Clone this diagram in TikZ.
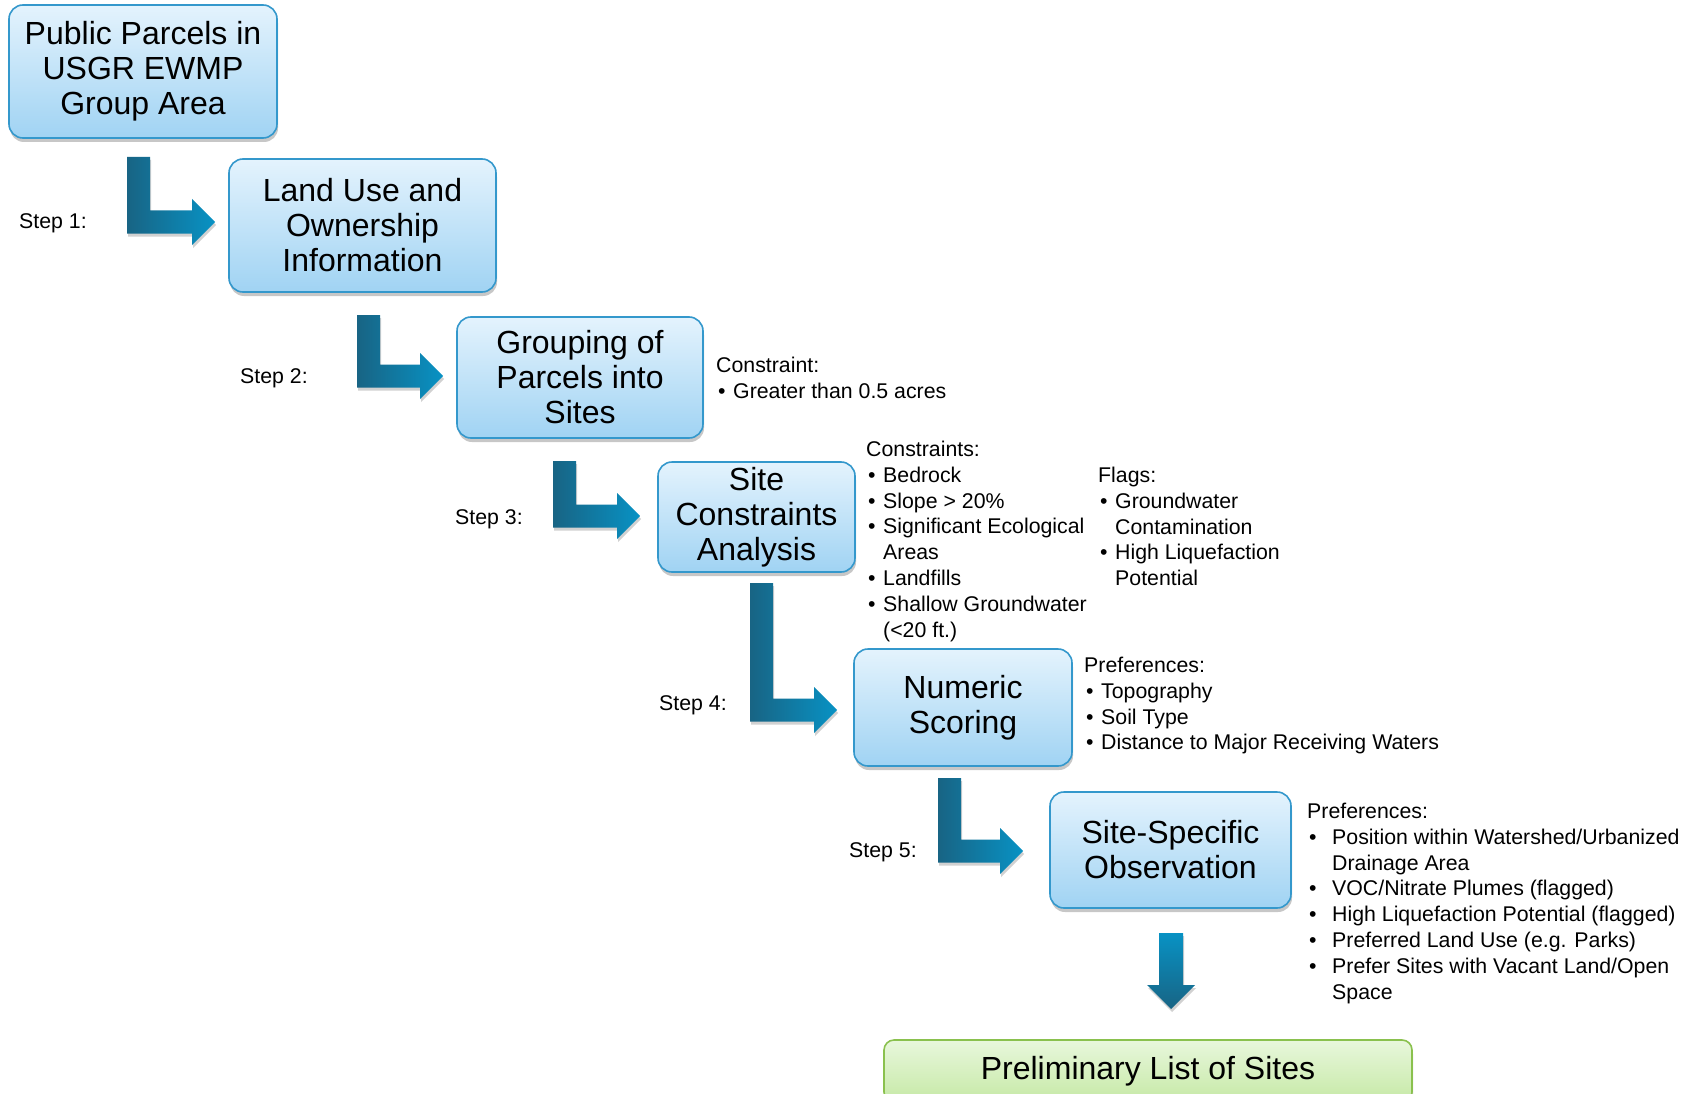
\documentclass[tikz,border=0pt]{standalone}
\usepackage{fontspec}
\setmainfont{Liberation Sans}
\usetikzlibrary{shadows,calc}

\definecolor{boxtop}{RGB}{228,243,253}
\definecolor{boxbot}{RGB}{160,211,243}
\definecolor{boxline}{RGB}{52,152,204}
\definecolor{greentop}{RGB}{232,247,220}
\definecolor{greenbot}{RGB}{198,233,166}
\definecolor{greenline}{RGB}{138,193,78}
\definecolor{arrdark}{RGB}{24,100,132}
\definecolor{arrlight}{RGB}{8,146,196}

\newcommand\bigtext{\fontsize{32}{35}\selectfont}
\newcommand\smalltext{\fontsize{21.3}{25.8}\selectfont}
% bullet line, continuation line and a stacked block of lines
\newcommand\bitem[2][17pt]{\hbox{\makebox[#1][l]{\hspace{2pt}•}#2}}
\newcommand\cont[2][17pt]{\hbox{\hspace{#1}#2}}
\newcommand\txtblock[1]{\vtop{\smalltext\lineskiplimit=-30pt\lineskip=0pt #1}}

% L-shaped block arrow: #1 = top-left corner of the stem, #2 = tip
\newcommand\larrow[2]{%
  \path[lshade] let \p1=(#1), \p2=(#2) in
    (\x1,\y1) -- (\x1+23pt,\y1) -- (\x1+23pt,\y2+11.5pt)
    -- (\x2-23pt,\y2+11.5pt) -- (\x2-23pt,\y2+23pt) -- (\x2,\y2)
    -- (\x2-23pt,\y2-23pt) -- (\x2-23pt,\y2-11.5pt) -- (\x1,\y2-11.5pt) -- cycle;}
% straight downward block arrow: #1 = top centre, #2 = tip
\newcommand\darrow[2]{%
  \path[dshade] let \p1=(#1), \p2=(#2) in
    (\x1-12pt,\y1) -- (\x1+12pt,\y1) -- (\x1+12pt,\y2+24pt) -- (\x1+24pt,\y2+24pt)
    -- (\x2,\y2) -- (\x1-24pt,\y2+24pt) -- (\x1-12pt,\y2+24pt) -- cycle;}

\begin{document}
\begin{tikzpicture}[x=1pt,y=-1pt,
  stepbox/.style={draw=boxline, line width=1.6pt, rounded corners=14pt,
    top color=boxtop, bottom color=boxbot, align=center, font=\bigtext,
    inner sep=0pt,
    drop shadow={shadow xshift=1pt, shadow yshift=-4pt, opacity=0.22, fill=black}},
  endbox/.style={stepbox, draw=greenline, rounded corners=10pt,
    top color=greentop, bottom color=greenbot},
  steplabel/.style={anchor=base west, inner sep=0pt, font=\smalltext},
  note/.style={anchor=base west, inner sep=0pt},
  lshade/.style={left color=arrdark, right color=arrlight,
    drop shadow={shadow xshift=1pt, shadow yshift=-3pt, opacity=0.18, fill=black}},
  dshade/.style={top color=arrlight, bottom color=arrdark,
    drop shadow={shadow xshift=1pt, shadow yshift=-3pt, opacity=0.18, fill=black}},
]
\useasboundingbox (0,0) rectangle (1694,1094);
\clip (0,0) rectangle (1694,1094);
\fill[white] (0,0) rectangle (1694,1094);

% process boxes
\node[stepbox, minimum width=268pt, minimum height=133pt] (b1) at (143,71.5)
  {Public Parcels in\\USGR EWMP\\Group Area};
\node[stepbox, minimum width=267pt, minimum height=133pt] (b2) at (362.5,225.5)
  {Land Use and\\Ownership\\Information};
\node[stepbox, minimum width=246pt, minimum height=121pt] (b3) at (580,377.5)
  {Grouping of\\Parcels into\\Sites};
\node[stepbox, minimum width=197pt, minimum height=110pt] (b4) at (756.5,517)
  {Site\\Constraints\\Analysis};
\node[stepbox, minimum width=218pt, minimum height=117pt] (b5) at (963,707.5)
  {Numeric\\Scoring};
\node[stepbox, minimum width=241pt, minimum height=116pt] (b6) at (1170.5,850)
  {Site-Specific\\Observation};
\node[endbox, minimum width=528pt, minimum height=62pt] (b7) at (1148,1071)
  {Preliminary List of Sites};

% arrow end points
\coordinate (a1s) at (127,157);  \coordinate (a1t) at (215,222);
\coordinate (a2s) at (357,315);  \coordinate (a2t) at (443,376);
\coordinate (a3s) at (553,461);  \coordinate (a3t) at (640,516);
\coordinate (a4s) at (750,583);  \coordinate (a4t) at (837,710);
\coordinate (a5s) at (938,778);  \coordinate (a5t) at (1023,851);
\coordinate (a6s) at (1171,933); \coordinate (a6t) at (1171,1009);

\larrow{a1s}{a1t}
\larrow{a2s}{a2t}
\larrow{a3s}{a3t}
\larrow{a4s}{a4t}
\larrow{a5s}{a5t}
\darrow{a6s}{a6t}

% step labels
\node[steplabel] (s1) at (19,229) {Step 1:};
\node[steplabel] (s2) at (240,383.5) {Step 2:};
\node[steplabel] (s3) at (455,524.5) {Step 3:};
\node[steplabel] (s4) at (659,710.5) {Step 4:};
\node[steplabel] (s5) at (849,857.5) {Step 5:};

% criteria lists
\node[note] (n3) at (716,372.5) {\txtblock{%
  \hbox{Constraint:}
  \bitem{Greater than 0.5 acres}}};
\node[note] (n4) at (866,456.5) {\txtblock{%
  \hbox{Constraints:}
  \bitem{Bedrock}
  \bitem{Slope > 20\%}
  \bitem{Significant Ecological}
  \cont{Areas}
  \bitem{Landfills}
  \bitem{Shallow Groundwater}
  \cont{(<20 ft.)}}};
\node[note] (f4) at (1098,482.5) {\txtblock{%
  \hbox{Flags:}
  \bitem{Groundwater}
  \cont{Contamination}
  \bitem{High Liquefaction}
  \cont{Potential}}};
\node[note] (n5) at (1084,672.5) {\txtblock{%
  \hbox{Preferences:}
  \bitem{Topography}
  \bitem{Soil Type}
  \bitem{Distance to Major Receiving Waters}}};
\node[note] (n6) at (1307,818.5) {\txtblock{%
  \hbox{Preferences:}
  \bitem[25pt]{Position within Watershed/Urbanized}
  \cont[25pt]{Drainage Area}
  \bitem[25pt]{VOC/Nitrate Plumes (flagged)}
  \bitem[25pt]{High Liquefaction Potential (flagged)}
  \bitem[25pt]{Preferred Land Use (e.g. Parks)}
  \bitem[25pt]{Prefer Sites with Vacant Land/Open}
  \cont[25pt]{Space}}};
\end{tikzpicture}
\end{document}
